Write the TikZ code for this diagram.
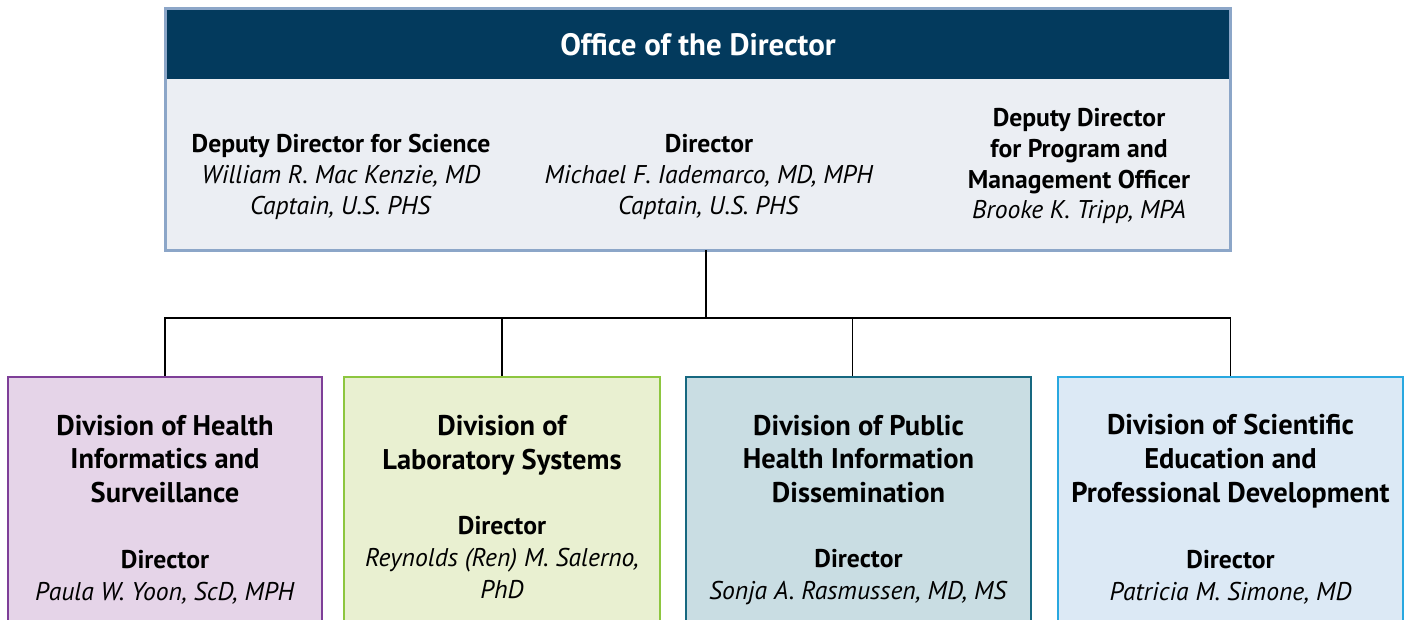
\documentclass[tikz,border=0pt]{standalone}
\usepackage{fontspec}
\setmainfont{PT Sans}
\definecolor{hdrblue}{RGB}{3,58,93}
\definecolor{ofcfill}{RGB}{235,238,243}
\definecolor{ofcline}{RGB}{140,166,200}
\definecolor{dhisfill}{RGB}{229,212,232}
\definecolor{dhisline}{RGB}{126,63,152}
\definecolor{dlsfill}{RGB}{233,240,209}
\definecolor{dlsline}{RGB}{141,198,63}
\definecolor{dphfill}{RGB}{201,221,227}
\definecolor{dphline}{RGB}{22,104,128}
\definecolor{dsefill}{RGB}{220,233,245}
\definecolor{dseline}{RGB}{40,168,224}
\begin{document}
\begin{tikzpicture}[x=0.02cm, y=-0.02cm,
  divbox/.style={rectangle, line width=1.6pt, minimum height=5.26cm, inner sep=0pt},
  ttl/.style={align=center, font=\fontsize{16.2}{19.3}\selectfont\bfseries},
  who/.style={align=center, font=\fontsize{14.6}{18.4}\selectfont},
  ofctxt/.style={align=center, font=\fontsize{14.6}{17.6}\selectfont},
  link/.style={line width=1.1pt, black}]
\clip (0,0) rectangle (1408,619);
% office of the director
\node[rectangle, fill=hdrblue, minimum width=21.28cm, minimum height=1.4cm, inner sep=0pt] (hdr) at (698,44){};
\node[rectangle, fill=ofcfill, minimum width=21.28cm, minimum height=3.42cm, inner sep=0pt] (ofc) at (698,164.5){};
\draw[ofcline, line width=1.6pt] (hdr.north west) rectangle (ofc.south east);
\node[text=white, font=\fontsize{17.6}{21}\selectfont\bfseries] (hdrtxt) at (698,45){Office of the Director};
\node[ofctxt] (dds) at (341,177){\textbf{Deputy Director for Science}\\\textit{William R. Mac Kenzie, MD}\\\textit{Captain, U.S. PHS}};
\node[ofctxt] (dir) at (709,177){\textbf{Director}\\\textit{Michael F. Iademarco, MD, MPH}\\\textit{Captain, U.S. PHS}};
\node[ofctxt] (ddp) at (1079,166){\textbf{Deputy Director}\\\textbf{for Program and}\\\textbf{Management Officer}\\\textit{Brooke K. Tripp, MPA}};
% divisions
\node[divbox, draw=dhisline, fill=dhisfill, minimum width=6.28cm] (dhis) at (165,508.5){};
\node[divbox, draw=dlsline, fill=dlsfill, minimum width=6.32cm] (dls) at (502,508.5){};
\node[divbox, draw=dphline, fill=dphfill, minimum width=6.9cm] (dphid) at (858.5,508.5){};
\node[divbox, draw=dseline, fill=dsefill, minimum width=6.9cm] (dsepd) at (1230.5,508.5){};
\node[ttl] (dhist) at (165,459){Division of Health\\Informatics and\\Surveillance};
\node[who] (dhisd) at (165,577){\textbf{Director}\\\textit{Paula W. Yoon, ScD, MPH}};
\node[ttl] (dlst) at (502,445){Division of\\Laboratory Systems};
\node[who] (dlsd) at (502,557.5){\textbf{Director}\\\textit{Reynolds (Ren) M. Salerno,}\\\textit{PhD}};
\node[ttl] (dphidt) at (858.5,459){Division of Public\\Health Information\\Dissemination};
\node[who] (dphidd) at (858.5,577){\textbf{Director}\\\textit{Sonja A. Rasmussen, MD, MS}};
\node[ttl] (dsepdt) at (1230.5,461){Division of Scientific\\Education and\\Professional Development};
\node[who] (dsepdd) at (1230.5,577){\textbf{Director}\\\textit{Patricia M. Simone, MD}};
% connectors
\coordinate (bus) at (706,318);
\draw[link] (ofc.south -| bus) -- (bus);
\draw[link] (bus) -| (dhis.north);
\draw[link] (bus) -| (dls.north);
\draw[link] (bus) -| ([xshift=-0.12cm]dphid.north);
\draw[link] (bus) -| (dsepd.north);
\end{tikzpicture}
\end{document}
